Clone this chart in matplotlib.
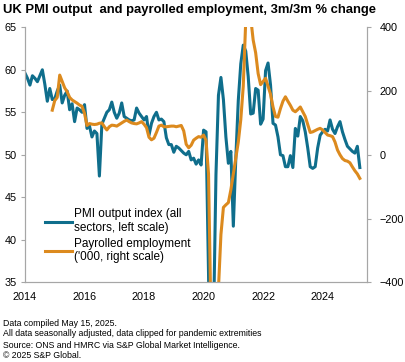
import numpy as np
import matplotlib.pyplot as plt

# monthly data, Jan 2014 .. Apr 2025
pmi = [59.6, 59.0, 58.2, 59.3, 59.0, 58.6, 59.3, 60.0, 58.3, 56.3, 57.8, 56.5,   # 2014
       56.6, 57.5, 58.2, 56.1, 57.0, 57.5, 55.3, 56.0, 53.9, 55.5, 55.3, 55.0,   # 2015
       55.9, 53.1, 53.4, 52.1, 52.8, 52.5, 47.5, 53.6, 54.3, 55.0, 55.3, 56.2,   # 2016
       55.0, 54.3, 54.9, 56.1, 54.5, 54.3, 54.1, 54.0, 54.1, 55.5, 54.9, 54.5,   # 2017
       54.1, 54.5, 52.3, 53.7, 54.5, 55.0, 54.1, 54.2, 53.9, 52.0, 51.2, 51.2,   # 2018
       50.3, 51.0, 50.8, 50.5, 50.2, 50.0, 50.4, 49.4, 49.6, 48.9, 49.4, 48.8,   # 2019
       52.9, 52.7, 36.0, 13.8, 30.0, 47.7, 57.0, 59.1, 56.5, 52.1, 49.0, 50.4,   # 2020
       41.6, 49.6, 56.4, 60.7, 62.9, 62.2, 59.2, 54.8, 54.9, 57.8, 57.6, 53.6,   # 2021
       54.2, 59.9, 60.8, 58.2, 53.7, 53.5, 52.1, 50.0, 49.9, 48.6, 48.6, 49.9,   # 2022
       48.5, 53.1, 52.2, 54.5, 54.0, 52.7, 50.8, 48.6, 48.4, 48.6, 50.8, 52.3,   # 2023
       52.7, 53.0, 52.8, 54.1, 53.0, 52.5, 53.3, 53.9, 52.7, 51.8, 51.0, 50.7,   # 2024
       50.4, 50.2, 51.0, 48.5]                                                   # 2025

# payrolled employment 3m/3m change ('000), Dec 2014 .. Apr 2025
payroll = [140,                                                                  # Dec 2014
           170, 180, 250, 230, 210, 198, 180, 172, 167, 162, 156, 152,           # 2015
           130, 92, 98, 96, 95, 96, 99, 100, 88, 78, 88, 93,                     # 2016
           92, 90, 95, 100, 105, 109, 104, 100, 98, 97, 100, 104,                # 2017
           96, 85, 55, 47, 52, 70, 90, 93, 88, 88, 89, 90,                       # 2018
           90, 88, 90, 92, 75, 33, 22, 30, 46, 52, 57, 55,                       # 2019
           62, 45, -60, -520, -700, -650, -420, -250, -165, -157, -150, -110,    # 2020
           -60, -10, 40, 110, 215, 420, 470, 430, 360, 320, 255, 220,            # 2021
           230, 240, 215, 190, 150, 120, 118, 145, 168, 182, 168, 155,           # 2022
           140, 135, 142, 150, 135, 120, 95, 70, 72, 76, 80, 83,                 # 2023
           78, 70, 62, 60, 57, 40, 15, 0, -12, -18, -20, -25,                    # 2024
           -38, -50, -60, -74]                                                   # 2025

year_ticks = [2014, 2016, 2018, 2020, 2022, 2024]
left_ticks = [35, 40, 45, 50, 55, 60, 65]
right_ticks = [-400, -200, 0, 200, 400]

blue = '#0f6e8c'
orange = '#dc8a1e'
grey = '#a6a6a6'

plt.rcParams['font.family'] = ['Liberation Sans', 'DejaVu Sans']

t_pmi = 2014 + np.arange(len(pmi)) / 12
t_pay = 2014 + (11 + np.arange(len(payroll))) / 12

fig = plt.figure(figsize=(4.05, 3.62), dpi=100)
ax = fig.add_axes([0.0617, 0.2202, 0.8444, 0.7044])
ax2 = ax.twinx()

l1, = ax.plot(t_pmi, pmi, color=blue, lw=2.2, solid_joinstyle='round')
l2, = ax2.plot(t_pay, payroll, color=orange, lw=2.2, solid_joinstyle='round')

ax.set_xlim(2014, 2025.49)
ax.set_ylim(35, 65)
ax2.set_ylim(-400, 400)
ax.set_xticks(year_ticks)
ax.set_yticks(left_ticks)
ax2.set_yticks(right_ticks)

for a in (ax, ax2):
    for s in a.spines.values():
        s.set_color(grey)
        s.set_linewidth(0.8)
    a.spines['top'].set_visible(False)
ax.tick_params(axis='x', length=0, pad=7, labelsize=7.8, colors='black')
ax.tick_params(axis='y', length=3, width=0.8, color=grey, pad=3, labelsize=7.8)
ax2.tick_params(axis='y', length=3, width=0.8, color=grey, pad=6, labelsize=7.8)

leg = ax.legend([l1, l2],
                ['PMI output index (all\nsectors, left scale)',
                 "Payrolled employment\n('000, right scale)"],
                loc='upper left', bbox_to_anchor=(0.058, 0.29), frameon=False,
                fontsize=8.5, handlelength=2.3, handletextpad=0.2,
                labelspacing=0.3, borderpad=0, borderaxespad=0)

fig.text(0.008, 0.972, 'UK PMI output  and payrolled employment, 3m/3m % change',
         fontsize=9.4, fontweight='bold', va='center', ha='left')

notes = ['Data compiled May 15, 2025.',
         'All data seasonally adjusted, data clipped for pandemic extremities',
         'Source: ONS and HMRC via S&P Global Market Intelligence.',
         '\u00a9 2025 S&P Global.']
for i, n in enumerate(notes):
    fig.text(0.008, 1 - (323 + i * 11) / 362, n, fontsize=6.3, va='center', ha='left')

fig.savefig('out.png', dpi=100)
